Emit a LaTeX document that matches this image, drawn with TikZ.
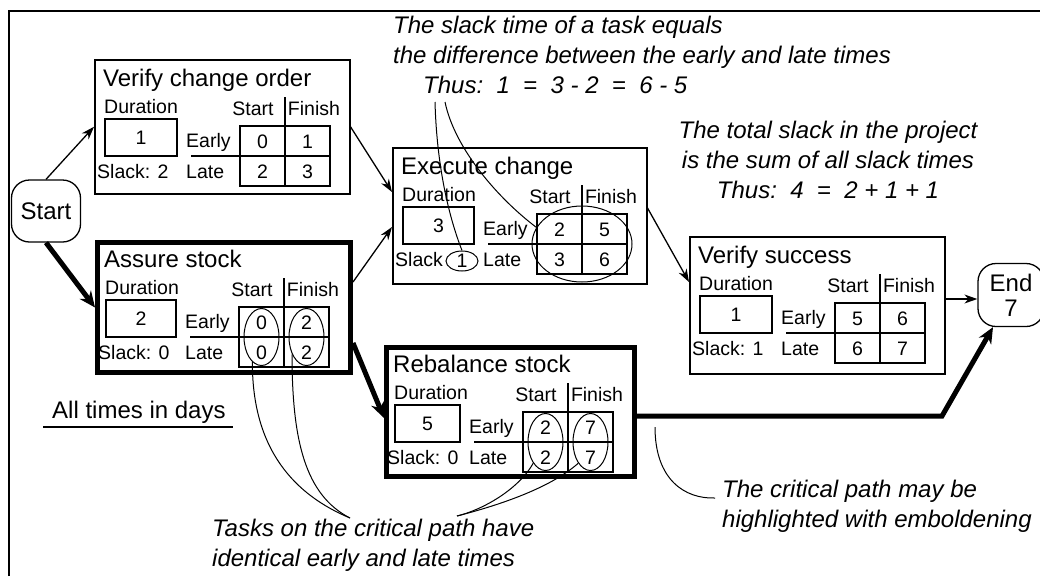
\documentclass[tikz,border=0pt]{standalone}
\usepackage{fontspec}
\setmainfont{Liberation Sans}
\usetikzlibrary{arrows.meta,shapes.geometric,calc}
\newcommand\titlefont{\fontsize{24}{28}\selectfont}
\newcommand\cellfont{\fontsize{19.5}{22}\selectfont}
\newcommand\notefont{\fontsize{24}{30}\selectfont\itshape}
\tikzset{
  >={Stealth[length=13pt,width=9pt]},
  task/.style={draw,inner sep=0pt,anchor=north west},
  grid/.style={line width=1.3pt},
  cell/.style={font=\cellfont,inner sep=0pt},
  term/.style={draw,line width=1.3pt,rounded corners=18pt,minimum width=69pt,
    minimum height=62pt,font=\titlefont,align=center,inner sep=0pt},
  ring/.style={draw,ellipse,line width=1pt,inner sep=0pt},
  link/.style={->,line width=1.3pt},
  critlink/.style={-{Stealth[length=16pt,width=14pt]},line width=5pt},
  note/.style={font=\notefont,inner sep=0pt},
  pointer/.style={line width=1pt},
}

\begin{document}
\begin{tikzpicture}[x=1pt,y=-1pt]
  \useasboundingbox (0,0) rectangle (1040,576);
  % page frame
  \draw[line width=1.5pt] (9,576) -- (9,11) -- (1040,11);

  % tasks: name/x/y/width/height/border/title/duration/slack/ES/EF/LS/LF
  \foreach \nm/\x/\y/\w/\h/\lw/\ti/\du/\sl/\es/\ef/\ls/\lf in {
    vco/94/59/255/134/1.5/Verify change order/1/Slack: 2/0/1/2/3,
    as/95/240/253/130/5/Assure stock/2/Slack: 0/0/2/0/2,
    ec/392/147/254/136/1.5/Execute change/3/Slack/2/5/3/6,
    vs/689/236/255/137/1.5/Verify success/1/Slack: 1/5/6/6/7,
    rs/384/345/248/129/5/Rebalance stock/5/Slack: 0/2/7/2/7}{
    \node[task,line width=\lw,minimum width=\w,minimum height=\h] (\nm) at (\x,\y) {};
    \begin{scope}[shift={(\x,\y)}]
      \node[anchor=base west,inner sep=0pt,font=\titlefont] (\nm-t) at (9,27) {\ti};
      \node[cell,anchor=base west] (\nm-dl) at (10,54) {Duration};
      \node[cell,draw,line width=1.3pt,minimum width=\w-183,minimum height=37pt]
        (\nm-d) at ({(\w-161)/2},78.5) {\du};
      \node[cell,anchor=base west] (\nm-sl) at (3,119) {\sl};
      \node[cell,anchor=base west] (\nm-el) at (\w-163,88) {Early};
      \node[cell,anchor=base west] (\nm-ll) at (\w-163,119) {Late};
      \node[cell,anchor=base] (\nm-sh) at (\w-96,56) {Start};
      \node[cell,anchor=base] (\nm-fh) at (\w-35,56) {Finish};
      \draw[grid] (\w-109,67) rectangle (\w-19,127);
      \draw[grid] (\w-158,97) -- (\w-19,97) (\w-64,38) -- (\w-64,127);
      \node[cell,anchor=base] (\nm-es) at (\w-86.5,89) {\es};
      \node[cell,anchor=base] (\nm-ef) at (\w-41.5,89) {\ef};
      \node[cell,anchor=base] (\nm-ls) at (\w-86.5,119) {\ls};
      \node[cell,anchor=base] (\nm-lf) at (\w-41.5,119) {\lf};
      \coordinate (\nm-c1) at (\w-86.5,97);
      \coordinate (\nm-c2) at (\w-41.5,97);
      \coordinate (\nm-tb) at (\w-64,97);
    \end{scope}
  }

  \node[term] (start) at (46,211) {Start};
  \node[term,minimum width=66pt,minimum height=63pt] (end) at (1011,295) {End\\[-3pt]7};

  % dependencies, critical ones in bold
  \draw[link] (start.north) -- (vco.west);
  \draw[critlink] (start.south) -- (as.west);
  \draw[link] (vco.east) -- ($(ec.north west)+(0,45)$);
  \draw[link] ($(as.north east)+(0,42)$) -- ($(ec.north west)+(0,80)$);
  \draw[critlink] ($(as.north east)+(0,103)$) -- ($(rs.north west)+(0,73)$);
  \draw[link] ($(ec.north east)+(0,61)$) -- ($(vs.north west)+(0,46)$);
  \draw[link] ($(vs.north east)+(0,63)$) coordinate (vo) -- (vo -| end.west);
  \coordinate (bend) at ($(rs.north east)+(305,71)$);
  \draw[critlink] ($(rs.north east)+(0,71)$) -- (bend) -- ([xshift=-18pt]end.south);

  % rings round the times
  \foreach \nm in {as,rs}{
    \node[ring,minimum width=35pt,minimum height=57pt] (\nm-o1) at (\nm-c1) {};
    \node[ring,minimum width=35pt,minimum height=57pt] (\nm-o2) at (\nm-c2) {};
  }
  \node[ring,minimum width=100pt,minimum height=76pt] (ec-o) at (ec-tb) {};
  \node[ring,cell,minimum width=32pt,minimum height=20pt] (ec-s) at (462,261) {1};

  % remarks
  \node[note,anchor=north west,align=left] (rule) at (393,16)
    {The slack time of a task equals\\the difference between the early and late times\\
     \hspace*{30pt}Thus:~~1~~=~~3 - 2~~=~~6 - 5};
  \node[note,anchor=north,align=center] (total) at (828,121)
    {The total slack in the project\\is the sum of all slack times\\Thus:~~4~~=~~2 + 1 + 1};
  \node[note,anchor=north west,align=left] (tasks) at (212,519)
    {Tasks on the critical path have\\identical early and late times};
  \node[note,anchor=north west,align=left] (bold) at (722,480)
    {The critical path may be\\highlighted with emboldening};
  \node[anchor=base west,inner sep=0pt,font=\titlefont] (days) at (52,418) {All times in days};
  \draw[line width=1.5pt] ($(days.base west)+(-9,9)$) -- ($(days.base east)+(7,9)$);

  \coordinate (r1) at (435,102);
  \coordinate (r2) at (445,102);
  \draw[pointer] (r1) .. controls (437,175) and (452,225) .. (ec-s.north);
  \draw[pointer] (r2) .. controls (455,150) and (500,200) .. (ec-o.160);
  \coordinate (tk1) at (350,518);
  \draw[pointer] (as-o1.250) .. controls (252,450) and (295,495) .. (tk1);
  \draw[pointer] (as-o2.230) .. controls (292,440) and (305,495) .. (tk1);
  \coordinate (tk2) at (457,516);
  \draw[pointer] (rs-o1.240) .. controls (518,490) and (482,510) .. (tk2);
  \draw[pointer] (rs-o2.240) .. controls (548,490) and (492,507) .. (tk2);
  \coordinate (cp) at (655,427);
  \draw[pointer] (cp) .. controls (655,480) and (685,499) .. ($(bold.north west)+(-7,18)$);
\end{tikzpicture}
\end{document}
